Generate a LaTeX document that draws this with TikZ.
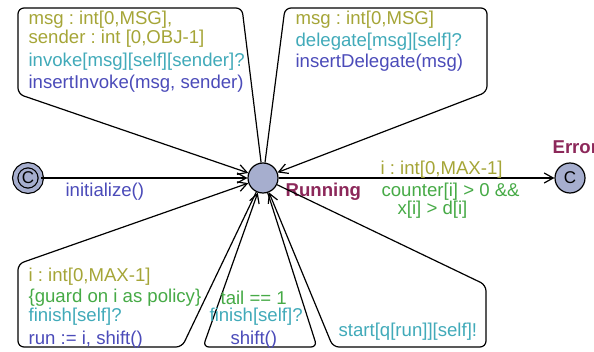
\documentclass[tikz,border=0pt]{standalone}
\usepackage{fontspec}
\setmainfont{Liberation Sans}
\usetikzlibrary{automata,arrows.meta}
\frenchspacing

\definecolor{locfill}{RGB}{166,174,206}
\definecolor{loctext}{RGB}{140,40,90}
\definecolor{selcol}{RGB}{165,165,55}
\definecolor{guardcol}{RGB}{70,170,70}
\definecolor{synccol}{RGB}{65,170,185}
\definecolor{updcol}{RGB}{75,75,185}

\begin{document}
\begin{tikzpicture}[x=0.5pt,y=-0.5pt,line width=0.6pt,
  >={Straight Barb[length=4.5pt,width=5pt]},
  every state/.style={draw,fill=locfill,minimum size=15pt,inner sep=0pt,
    font=\fontsize{8.5}{10}\selectfont},
  lbl/.style={inner sep=0pt,anchor=west,font=\fontsize{9.3}{11}\selectfont},
  sel/.style={lbl,text=selcol},
  grd/.style={lbl,text=guardcol},
  syn/.style={lbl,text=synccol},
  upd/.style={lbl,text=updcol},
  lname/.style={lbl,text=loctext,font=\fontsize{9.3}{11}\selectfont\bfseries}]
  \useasboundingbox (0,0) rectangle (594,352);

  \node[state,double=locfill,double distance=2pt,minimum size=12.8pt](init) at (28,178) {C};
  \node[state](run) at (263,178) {};
  \node[state](err) at (570,178) {C};
  \node[lname](nrun) at (285,192) {Running};
  \node[lname](nerr) at (552,147) {Error};

  \draw[->] (init) -- (run);
  \draw[->] (run) -- (err);
  \draw[->,rounded corners=3pt] (run) -- (242,8) -- (18,8) -- (18,94) -- (run);
  \draw[->,rounded corners=3pt] (run) -- (285,8) -- (487,8) -- (487,92) -- (run);
  \draw[->,rounded corners=3pt] (run) -- (182,347) -- (18,347) -- (18,264) -- (run);
  \draw[->,rounded corners=3pt] (run) -- (317,347) -- (203,347) -- (run);
  \draw[->,rounded corners=3pt] (run) -- (486,285) -- (486,347) -- (333,347) -- (run);

  % init edge
  \node[upd](u0) at (65,192) {initialize()};
  % top left loop
  \node[sel](s1) at (28,20) {msg : int[0,MSG],};
  \node[sel](s2) at (28,39) {sender : int [0,OBJ-1]};
  \node[syn](c1) at (28,62) {invoke[msg][self][sender]?};
  \node[upd](u1) at (28,84) {insertInvoke(msg, sender)};
  % top right loop
  \node[sel](s3) at (295,20) {msg : int[0,MSG]};
  \node[syn](c2) at (295,42) {delegate[msg][self]?};
  \node[upd](u2) at (295,63) {insertDelegate(msg)};
  % error edge
  \node[sel](s4) at (380,170) {i : int[0,MAX-1]};
  \node[grd](g1) at (381,192) {counter[i] > 0 \&\&};
  \node[grd](g2) at (397,210) {x[i] > d[i]};
  % bottom loops
  \node[sel](s5) at (28,277) {i : int[0,MAX-1]};
  \node[grd](g3) at (28,298) {\{guard on i as policy\}};
  \node[syn](c3) at (28,317) {finish[self]?};
  \node[upd](u3) at (28,340) {run := i, shift()};
  \node[grd](g4) at (220,298) {tail == 1};
  \node[syn](c4) at (209,317) {finish[self]?};
  \node[upd](u4) at (230,340) {shift()};
  \node[syn](c5) at (338,332) {start[q[run]][self]!};
\end{tikzpicture}
\end{document}
